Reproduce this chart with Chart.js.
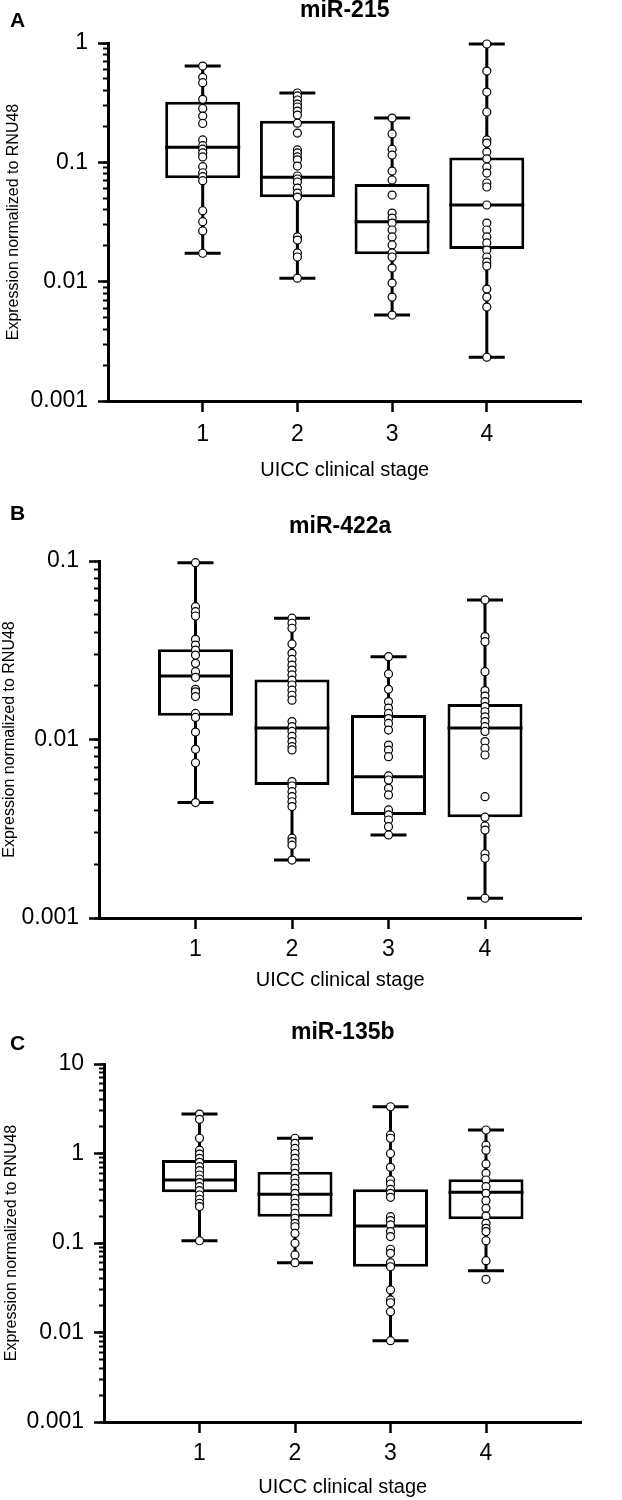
<!DOCTYPE html>
<html>
<head>
<meta charset="utf-8">
<script src="https://cdn.jsdelivr.net/npm/chart.js@4.4.1/dist/chart.umd.min.js"></script>
<style>
body { margin: 0; background: #fff; }
#wrap { position: relative; width: 622px; height: 1500px; }
#wrap canvas { position: absolute; left: 0; }
</style>
</head>
<body>
<div id="wrap">
<canvas id="chartA" width="622" height="490" style="top:0px"></canvas>
<canvas id="chartB" width="622" height="510" style="top:490px"></canvas>
<canvas id="chartC" width="622" height="500" style="top:1000px"></canvas>
</div>
<script>
const stages = ['1', '2', '3', '4'];

// A: miR-215
const a_dots = [
  [0.641, 0.516, 0.465, 0.337, 0.283, 0.244, 0.212, 0.154, 0.138, 0.129, 0.120, 0.111, 0.0919, 0.0818, 0.0758, 0.0702, 0.0393, 0.0318, 0.0266, 0.0173],
  [0.381, 0.360, 0.333, 0.308, 0.291, 0.269, 0.249, 0.213, 0.176, 0.127, 0.120, 0.111, 0.105, 0.0931, 0.0768, 0.0725, 0.0684, 0.0609, 0.0553, 0.0512, 0.0237, 0.0223, 0.0174, 0.0161, 0.0107],
  [0.235, 0.173, 0.129, 0.115, 0.0845, 0.0711, 0.0532, 0.0376, 0.0341, 0.0310, 0.0271, 0.0237, 0.0203, 0.0174, 0.0161, 0.0130, 0.00973, 0.00743, 0.00525],
  [0.981, 0.582, 0.388, 0.264, 0.154, 0.145, 0.122, 0.107, 0.0914, 0.0813, 0.0671, 0.0621, 0.0439, 0.0310, 0.0271, 0.0237, 0.0211, 0.0184, 0.0161, 0.0146, 0.0135, 0.00867, 0.00743, 0.00612, 0.00233]
];
const a_q1 = [0.0734, 0.0509, 0.0170, 0.0188];
const a_median = [0.134, 0.0749, 0.0318, 0.0439];
const a_q3 = [0.322, 0.223, 0.0658, 0.110];
const a_min = [0.0173, 0.0107, 0.00525, 0.00233];
const a_max = [0.641, 0.381, 0.235, 0.981];
const a_yTicks = [0.001, 0.01, 0.1, 1];
const a_yLabels = ['0.001', '0.01', '0.1', '1'];

// B: miR-422a
const b_dots = [
  [0.0978, 0.0555, 0.0520, 0.0492, 0.0364, 0.0338, 0.0317, 0.0297, 0.0267, 0.0240, 0.0223, 0.0191, 0.0185, 0.0174, 0.0140, 0.0133, 0.0110, 0.00881, 0.00741, 0.00443],
  [0.0478, 0.0448, 0.0420, 0.0343, 0.0304, 0.0281, 0.0261, 0.0245, 0.0230, 0.0215, 0.0202, 0.0189, 0.0177, 0.0166, 0.0126, 0.0118, 0.0111, 0.0104, 0.00973, 0.00912, 0.00874, 0.00581, 0.00549, 0.00510, 0.00478, 0.00448, 0.00421, 0.00280, 0.00268, 0.00256, 0.00211],
  [0.0291, 0.0233, 0.0191, 0.0163, 0.0150, 0.0140, 0.0131, 0.0123, 0.0113, 0.00931, 0.00873, 0.00801, 0.00625, 0.00593, 0.00533, 0.00489, 0.00403, 0.00378, 0.00354, 0.00325, 0.00292],
  [0.0605, 0.0377, 0.0353, 0.0240, 0.0188, 0.0175, 0.0163, 0.0153, 0.0143, 0.0134, 0.0126, 0.0118, 0.0111, 0.00973, 0.00893, 0.00819, 0.00478, 0.00367, 0.00328, 0.00311, 0.00229, 0.00216, 0.00129]
];
const b_q1 = [0.0136, 0.00556, 0.00378, 0.00367];
const b_median = [0.0227, 0.0116, 0.00619, 0.0116];
const b_q3 = [0.0320, 0.0217, 0.0137, 0.0158];
const b_min = [0.00443, 0.00211, 0.00292, 0.00129];
const b_max = [0.0978, 0.0478, 0.0291, 0.0605];
const b_yTicks = [0.001, 0.01, 0.1];
const b_yLabels = ['0.001', '0.01', '0.1'];

// C: miR-135b
const c_dots = [
  [2.76, 2.41, 1.48, 1.09, 0.986, 0.883, 0.797, 0.713, 0.643, 0.575, 0.519, 0.472, 0.426, 0.384, 0.344, 0.308, 0.278, 0.255, 0.106],
  [1.48, 1.30, 1.14, 1.00, 0.883, 0.778, 0.684, 0.601, 0.528, 0.465, 0.408, 0.359, 0.316, 0.278, 0.244, 0.215, 0.189, 0.166, 0.152, 0.128, 0.0993, 0.0735, 0.0603],
  [3.33, 1.61, 1.48, 1.00, 0.701, 0.506, 0.456, 0.398, 0.359, 0.324, 0.197, 0.178, 0.159, 0.134, 0.118, 0.0851, 0.0767, 0.0603, 0.0543, 0.0299, 0.0231, 0.0215, 0.0171, 0.00810],
  [1.83, 1.24, 1.09, 0.764, 0.601, 0.506, 0.426, 0.359, 0.297, 0.244, 0.200, 0.166, 0.146, 0.134, 0.106, 0.0634, 0.0393]
];
const c_q1 = [0.368, 0.197, 0.0543, 0.184];
const c_median = [0.506, 0.350, 0.155, 0.368];
const c_q3 = [0.846, 0.626, 0.398, 0.515];
const c_min = [0.106, 0.0603, 0.00810, 0.0491];
const c_max = [2.76, 1.48, 3.33, 1.83];
const c_yTicks = [0.001, 0.01, 0.1, 1, 10];
const c_yLabels = ['0.001', '0.01', '0.1', '1', '10'];

const fam = "'Liberation Sans', Arial, sans-serif";
Chart.defaults.font.family = fam;
Chart.defaults.color = '#000';

function isDecade(v) {
  var l = Math.log10(v);
  return Math.abs(l - Math.round(l)) < 1e-6;
}

// 1..9 in every decade between min and max
function logTicks(min, max) {
  var out = [];
  var e0 = Math.round(Math.log10(min)), e1 = Math.round(Math.log10(max));
  for (var e = e0; e < e1; e++) {
    for (var m = 1; m < 10; m++) out.push({ value: parseFloat((m * Math.pow(10, e)).toPrecision(6)) });
  }
  out.push({ value: max });
  return out;
}

// panel letter + bold title
const panelText = {
  id: 'panelText',
  afterDraw: function (chart, args, o) {
    var ctx = chart.ctx, area = chart.chartArea;
    ctx.save();
    ctx.fillStyle = '#000';
    ctx.textBaseline = 'alphabetic';
    ctx.font = 'bold 21px ' + fam;
    ctx.textAlign = 'left';
    ctx.fillText(o.letter, 10, o.letterY);
    ctx.font = 'bold 23px ' + fam;
    ctx.textAlign = 'center';
    ctx.fillText(o.title, (area.left + area.right) / 2, o.titleY);
    ctx.restore();
  }
};

function makeChart(id, dots, q1, median, q3, lo, hi, yVals, yLabels, lay) {
  var pts = [], meds = [], caps = [], boxes = [], whisk = [];
  stages.forEach(function (s, i) {
    var x = i + 1;
    dots[i].forEach(function (v) { pts.push({ x: x, y: v }); });
    meds.push({ x: x, y: median[i] });
    caps.push({ x: x, y: lo[i] }, { x: x, y: hi[i] });
    boxes.push({ x: x, y: [q1[i], q3[i]] });
    whisk.push({ x: x, y: [lo[i], hi[i]] });
  });
  var yMin = yVals[0], yMax = yVals[yVals.length - 1];
  var canvas = document.getElementById(id);
  var H = canvas.height;

  return new Chart(canvas, {
    type: 'bar',
    data: {
      datasets: [
        { type: 'scatter', data: pts, pointRadius: 4, pointBorderWidth: 1.2,
          pointBackgroundColor: '#fff', pointBorderColor: '#000', clip: false, order: 0 },
        { type: 'scatter', data: meds, pointStyle: 'line', pointRadius: 37.5, pointBorderWidth: 3,
          pointBorderColor: '#000', clip: false, order: 1 },
        { type: 'scatter', data: caps, pointStyle: 'line', pointRadius: 18, pointBorderWidth: 3,
          pointBorderColor: '#000', clip: false, order: 1 },
        { type: 'bar', data: boxes, barThickness: 75, backgroundColor: '#fff', borderColor: '#000',
          borderWidth: 3, borderSkipped: false, inflateAmount: 0, grouped: false, order: 2 },
        { type: 'bar', data: whisk, barThickness: 3, backgroundColor: '#000', borderWidth: 0,
          inflateAmount: 0, grouped: false, order: 3 }
      ]
    },
    options: {
      responsive: false,
      animation: false,
      events: [],
      devicePixelRatio: 1,
      layout: { padding: { top: lay.top, right: 622 - lay.right, left: 0, bottom: 0 } },
      plugins: {
        legend: { display: false },
        tooltip: { enabled: false },
        panelText: { letter: lay.letter, title: lay.title, letterY: lay.letterY, titleY: lay.titleY }
      },
      scales: {
        x: {
          type: 'linear', min: 0, max: 5, offset: false,
          afterBuildTicks: function (s) { s.ticks = stages.map(function (t, i) { return { value: i + 1 }; }); },
          afterFit: function (s) { s.height = H - lay.bottom; },
          ticks: { callback: function (v) { return stages[v - 1]; }, font: { size: 23 }, padding: lay.xPad, autoSkip: false, maxRotation: 0 },
          grid: { drawOnChartArea: false, offset: false, tickLength: 11, tickWidth: 2.5, tickColor: '#000' },
          border: { color: '#000', width: 3 },
          title: { display: true, text: 'UICC clinical stage', font: { size: 20 }, padding: { top: 0, bottom: lay.xTitlePad } }
        },
        y: {
          type: 'logarithmic', position: 'left', min: yMin, max: yMax, weight: 1,
          afterBuildTicks: function (s) { s.ticks = logTicks(yMin, yMax); },
          afterFit: function (s) { s.width = lay.left; },
          ticks: {
            autoSkip: false, font: { size: 23 }, padding: 10,
            callback: function (v) {
              var i = yVals.findIndex(function (t) { return Math.abs(t - v) / t < 1e-6; });
              return i >= 0 ? yLabels[i] : '';
            }
          },
          grid: {
            drawOnChartArea: false, tickLength: 10, tickWidth: 2.5,
            tickColor: function (ctx) { return ctx.tick && isDecade(ctx.tick.value) ? '#000' : 'rgba(0,0,0,0)'; }
          },
          border: { color: '#000', width: 3 },
          title: { display: true, text: 'Expression normalized to RNU48', font: { size: 16 }, padding: { top: lay.yTitlePad, bottom: 0 } }
        },
        yMinor: {
          type: 'logarithmic', position: 'left', min: yMin, max: yMax, weight: 0,
          afterBuildTicks: function (s) { s.ticks = logTicks(yMin, yMax); },
          afterFit: function (s) { s.width = 0; },
          ticks: { display: false },
          grid: { drawOnChartArea: false, tickLength: 5, tickWidth: 2, tickColor: '#000' },
          border: { display: false }
        }
      }
    },
    plugins: [panelText]
  });
}

makeChart('chartA', a_dots, a_q1, a_median, a_q3, a_min, a_max, a_yTicks, a_yLabels,
  { top: 43, left: 108, right: 616, bottom: 401, xPad: 9, xTitlePad: 8, yTitlePad: 4,
    letter: 'A', title: 'miR-215', letterY: 27, titleY: 17 });
makeChart('chartB', b_dots, b_q1, b_median, b_q3, b_min, b_max, b_yTicks, b_yLabels,
  { top: 71, left: 99, right: 607, bottom: 428, xPad: 7, xTitlePad: 8, yTitlePad: 0,
    letter: 'B', title: 'miR-422a', letterY: 30, titleY: 43 });
makeChart('chartC', c_dots, c_q1, c_median, c_q3, c_min, c_max, c_yTicks, c_yLabels,
  { top: 64, left: 104, right: 613, bottom: 422, xPad: 7, xTitlePad: 1, yTitlePad: 1.5,
    letter: 'C', title: 'miR-135b', letterY: 50, titleY: 39 });
</script>
</body>
</html>
